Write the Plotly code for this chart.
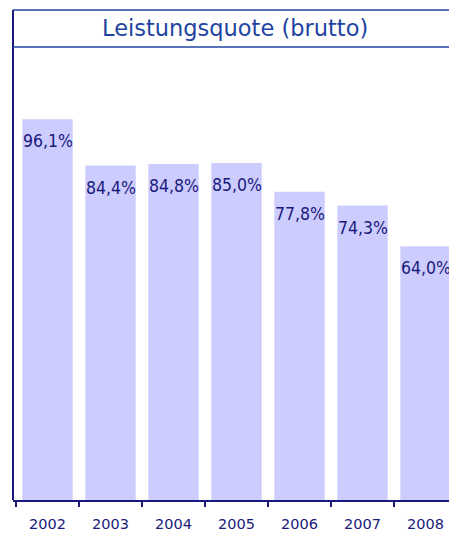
import plotly.graph_objects as go

years = ["2002", "2003", "2004", "2005", "2006", "2007", "2008"]
quote = [96.1, 84.4, 84.8, 85.0, 77.8, 74.3, 64.0]
title_text = "Leistungsquote (brutto)"

NAVY = "#1a1a7a"
TITLE_BLUE = "#2244a0"
BAR = "#ccccff"

# page body has an 8px margin, so the figure is slightly smaller than the window
W, H = 449, 526
ml, mr, mt, mb = 5, 0, 39, 34
plot_h = H - mt - mb

fig = go.Figure(go.Bar(
    x=years, y=quote, width=0.8,
    marker=dict(color=BAR, line=dict(width=0)),
    hoverinfo="skip",
))

# value labels placed on the category axis by category index
value_labels = [
    dict(x=i, y=v, xref="x", yref="y", text=f"{v:.1f}%".replace(".", ","),
         showarrow=False, xanchor="center", yanchor="top", yshift=-10,
         font=dict(family="DejaVu Sans Condensed, sans-serif", size=17.5, color=NAVY))
    for i, v in enumerate(quote)
]

fig.update_layout(
    width=W, height=H,
    margin=dict(l=ml, r=mr, t=mt, b=mb),
    paper_bgcolor="white", plot_bgcolor="white",
    showlegend=False,
    xaxis=dict(
        type="category", range=[-0.548, 6.5],
        tickson="boundaries", ticks="outside", ticklen=5, tickwidth=1.5, tickcolor=NAVY,
        showline=True, linecolor=NAVY, linewidth=2,
        tickfont=dict(family="DejaVu Sans", size=14.5, color=NAVY),
        ticklabelstandoff=10,
        showgrid=False, zeroline=False, fixedrange=True,
    ),
    yaxis=dict(
        range=[0, 114.3], visible=False, showgrid=False, zeroline=False,
    ),
    shapes=[
        dict(type="line", xref="paper", yref="paper", x0=0, x1=0, y0=0, y1=1 + 37 / plot_h,
             line=dict(color=NAVY, width=2)),
        dict(type="line", xref="paper", yref="paper", x0=0, x1=1.01, y0=1 + 37 / plot_h, y1=1 + 37 / plot_h,
             line=dict(color=TITLE_BLUE, width=1.5)),
        dict(type="line", xref="paper", yref="paper", x0=0, x1=1.01, y0=1, y1=1,
             line=dict(color=TITLE_BLUE, width=1.5)),
    ],
    annotations=[dict(
        text=title_text, xref="paper", yref="paper", x=0.5, y=1 + 18.5 / plot_h,
        xanchor="center", yanchor="middle", showarrow=False,
        font=dict(family="DejaVu Sans", size=22.5, color=TITLE_BLUE),
    )] + value_labels,
)

fig.write_html("out.html")
